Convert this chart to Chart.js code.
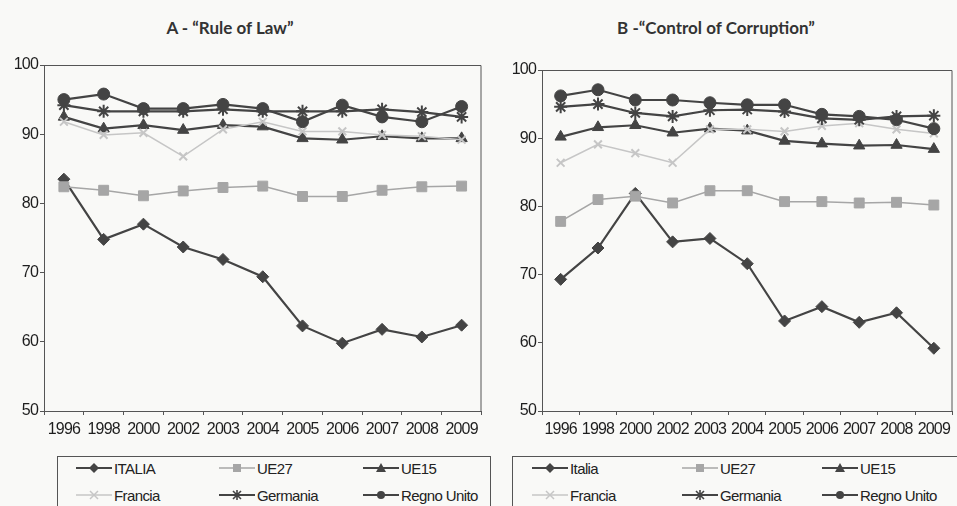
<!DOCTYPE html>
<html>
<head>
<meta charset="utf-8">
<script src="https://cdn.jsdelivr.net/npm/chart.js@4"></script>
<style>
  html, body { margin: 0; padding: 0; background: #f9f9f7; overflow: hidden; }
  body { width: 957px; height: 506px; position: relative; }
  .panel { position: absolute; top: 0; height: 450px; }
  .title { position: absolute; top: 27px; transform: translate(-50%, -50%); white-space: nowrap;
           font-family: Lato, "DejaVu Sans", sans-serif; font-weight: bold; font-size: 17px; color: #333; }
  .legend { position: absolute; top: 456px; height: 70px; border: 1px solid #555; background: #f9f9f7; }
  .item { position: absolute; display: flex; align-items: center; height: 20px; white-space: nowrap;
          font-family: "Liberation Sans", Arial, sans-serif; font-size: 15px; letter-spacing: -0.6px; color: #222; }
  .item svg { margin-right: 2px; }
</style>
</head>
<body>
<div class="title" style="left:230px">A - “Rule of Law”</div>
<div class="title" style="left:716px">B -“Control of Corruption”</div>
<div class="panel" style="left:0; width:490px"><canvas id="chartA"></canvas></div>
<div class="panel" style="left:490px; width:471px"><canvas id="chartB"></canvas></div>
<div class="legend" id="legendA" style="left:57px; width:432px"></div>
<div class="legend" id="legendB" style="left:512px; width:460px"></div>
<script>
var years = ['1996', '1998', '2000', '2002', '2003', '2004', '2005', '2006', '2007', '2008', '2009'];
var yTicks = [50, 60, 70, 80, 90, 100];

// A - Rule of Law
var ruleItalia     = [83.5, 74.8, 77.0, 73.7, 71.9, 69.4, 62.3, 59.8, 61.8, 60.7, 62.4];
var ruleUE27       = [82.4, 81.9, 81.1, 81.8, 82.3, 82.5, 81.0, 81.0, 81.9, 82.4, 82.5];
var ruleUE15       = [92.5, 90.8, 91.3, 90.6, 91.3, 91.1, 89.4, 89.2, 89.7, 89.4, 89.4];
var ruleFrancia    = [91.8, 89.9, 90.2, 86.8, 90.7, 91.8, 90.4, 90.4, 89.9, 89.7, 89.2];
var ruleGermania   = [94.2, 93.3, 93.3, 93.3, 93.6, 93.3, 93.3, 93.3, 93.6, 93.2, 92.5];
var ruleRegnoUnito = [95.0, 95.8, 93.7, 93.7, 94.3, 93.7, 91.8, 94.2, 92.5, 91.8, 94.0];

// B - Control of Corruption
var corrItalia     = [69.3, 73.9, 81.9, 74.8, 75.3, 71.6, 63.2, 65.3, 63.0, 64.4, 59.2];
var corrUE27       = [77.8, 81.0, 81.5, 80.5, 82.3, 82.3, 80.7, 80.7, 80.5, 80.6, 80.2];
var corrUE15       = [90.2, 91.6, 91.9, 90.8, 91.4, 91.1, 89.6, 89.2, 88.9, 89.0, 88.4];
var corrFrancia    = [86.4, 89.1, 87.8, 86.4, 91.3, 91.3, 91.0, 91.8, 92.2, 91.3, 90.7];
var corrGermania   = [94.6, 95.0, 93.7, 93.2, 94.1, 94.2, 93.9, 92.9, 92.7, 93.2, 93.3];
var corrRegnoUnito = [96.2, 97.1, 95.6, 95.6, 95.2, 94.9, 94.9, 93.5, 93.2, 92.7, 91.4];

var namesA = ['ITALIA', 'UE27', 'UE15', 'Francia', 'Germania', 'Regno Unito'];
var namesB = ['Italia', 'UE27', 'UE15', 'Francia', 'Germania', 'Regno Unito'];

var dark = '#444444';
var styles = [
    { color: dark,      point: 'rectRot',  radius: 6, width: 2.2 },
    { color: '#a6a6a6', point: 'rect',     radius: 7, width: 1.5 },
    { color: dark,      point: 'triangle', radius: 6.5, width: 2.2 },
    { color: '#c6c6c6', point: 'crossRot', radius: 5.5, width: 1.5 },
    { color: dark,      point: 'star',     radius: 6.5, width: 2.2 },
    { color: dark,      point: 'circle',   radius: 6, width: 2.2 }
];

function makeDatasets(names, series) {
    return series.map(function(data, i) {
        var s = styles[i];
        return {
            label: names[i],
            data: data,
            borderColor: s.color,
            backgroundColor: s.color,
            borderWidth: s.width,
            pointStyle: s.point,
            pointRadius: s.radius,
            pointBorderWidth: (s.point === 'star' || s.point === 'crossRot') ? 2 : 1,
            pointBorderColor: s.color,
            pointBackgroundColor: s.color,
            tension: 0,
            order: series.length - i
        };
    });
}

var plotBox = {
    id: 'plotBox',
    beforeDraw: function(chart) {
        chart.ctx.letterSpacing = '-0.8px';
    },
    afterDraw: function(chart) {
        var a = chart.chartArea, ctx = chart.ctx;
        ctx.save();
        ctx.strokeStyle = '#555';
        ctx.lineWidth = 1;
        ctx.beginPath();
        ctx.moveTo(a.left, a.top + 0.5);
        ctx.lineTo(a.right - 0.5, a.top + 0.5);
        ctx.lineTo(a.right - 0.5, a.bottom);
        ctx.stroke();
        ctx.restore();
    }
};

function makeChart(id, names, series, yWidth, padTop, padRight) {
    return new Chart(document.getElementById(id), {
        type: 'line',
        data: { labels: years, datasets: makeDatasets(names, series) },
        options: {
            responsive: true,
            maintainAspectRatio: false,
            animation: false,
            layout: { padding: { top: padTop, right: padRight, left: 0, bottom: 0 } },
            plugins: { legend: { display: false }, title: { display: false }, tooltip: { enabled: false } },
            scales: {
                x: {
                    offset: true,
                    afterFit: function(scale) { scale.height = 39; },
                    grid: { offset: true, drawOnChartArea: false, tickLength: 4, color: '#555' },
                    border: { color: '#555', width: 1 },
                    ticks: { color: '#1e1e1e', maxRotation: 0, autoSkip: false, padding: 5,
                             font: { family: '"Liberation Sans", Arial', size: 16 } }
                },
                y: {
                    min: yTicks[0],
                    max: yTicks[yTicks.length - 1],
                    afterFit: function(scale) { scale.width = yWidth; },
                    afterBuildTicks: function(scale) {
                        scale.ticks = yTicks.map(function(v) { return { value: v }; });
                    },
                    grid: { drawOnChartArea: false, tickLength: 4, color: '#555' },
                    border: { color: '#555', width: 1 },
                    ticks: { color: '#1e1e1e', padding: 2,
                             font: { family: '"Liberation Sans", Arial', size: 16 } }
                }
            }
        },
        plugins: [plotBox]
    });
}

makeChart('chartA', namesA,
    [ruleItalia, ruleUE27, ruleUE15, ruleFrancia, ruleGermania, ruleRegnoUnito], 44, 65, 2);
makeChart('chartB', namesB,
    [corrItalia, corrUE27, corrUE15, corrFrancia, corrGermania, corrRegnoUnito], 52, 70, 0);

// legend samples: line with the marker in the middle
function markerSvg(s) {
    var c = s.color, cy = 10, m = '';
    if (s.point === 'circle') m = '<circle cx="18" cy="10" r="4" fill="' + c + '"/>';
    else if (s.point === 'rect') m = '<rect x="14" y="6" width="8" height="8" fill="' + c + '"/>';
    else if (s.point === 'rectRot') m = '<polygon points="18,5 23,10 18,15 13,10" fill="' + c + '"/>';
    else if (s.point === 'triangle') m = '<polygon points="18,5 23,14 13,14" fill="' + c + '"/>';
    else if (s.point === 'crossRot') m = '<path d="M14,6 L22,14 M22,6 L14,14" stroke="' + c + '" stroke-width="1.5"/>';
    else if (s.point === 'star') m = '<path d="M14,6 L22,14 M22,6 L14,14 M18,5 L18,15" stroke="' + c + '" stroke-width="1.6"/>';
    return '<svg width="36" height="20"><line x1="0" y1="' + cy + '" x2="36" y2="' + cy +
        '" stroke="' + c + '" stroke-width="' + (s.width > 2 ? 2 : 1.5) + '"/>' + m + '</svg>';
}

function buildLegend(id, names, cols) {
    var box = document.getElementById(id);
    var rows = [1, 28];
    names.forEach(function(name, i) {
        var el = document.createElement('div');
        el.className = 'item';
        el.style.left = cols[i % 3] + 'px';
        el.style.top = rows[Math.floor(i / 3)] + 'px';
        el.innerHTML = markerSvg(styles[i]) + '<span>' + name + '</span>';
        box.appendChild(el);
    });
}

buildLegend('legendA', namesA, [18, 161, 305]);
buildLegend('legendB', namesB, [19, 169, 309]);
</script>
</body>
</html>
